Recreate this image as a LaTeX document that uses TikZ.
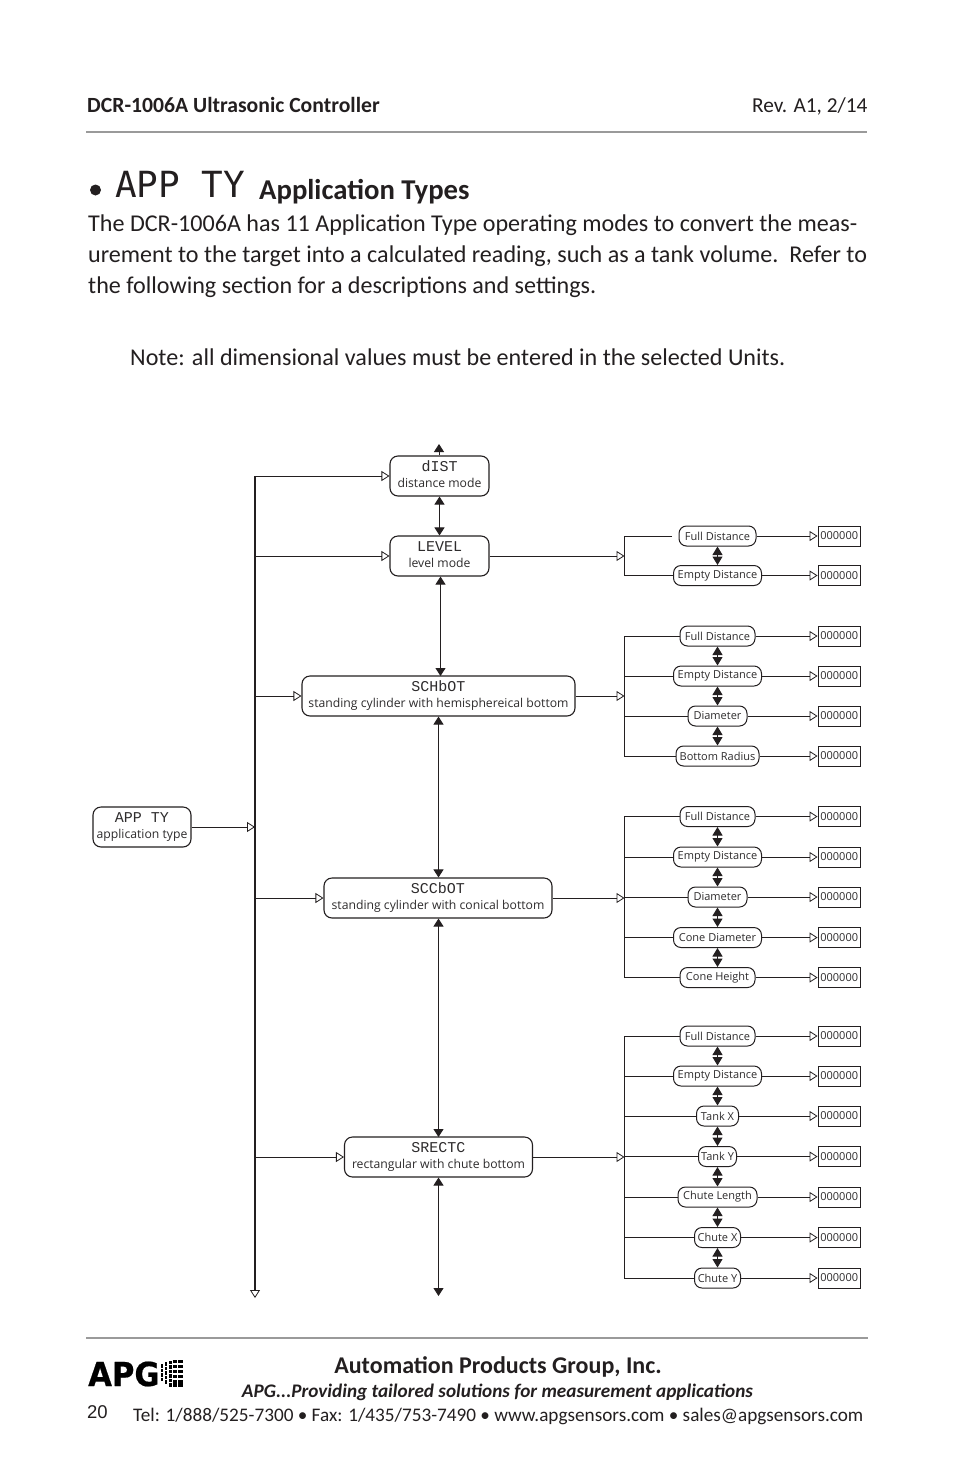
\documentclass[tikz,border=0pt]{standalone}
\usepackage{fontspec}
\usetikzlibrary{arrows.meta}
\setmainfont{Carlito}
\newfontfamily\lcd{Liberation Mono}
\newfontfamily\lcdbig{DejaVu Sans Mono}
\newfontfamily\diag{Open Sans}
\newfontfamily\logof[FakeStretch=0.93,FakeBold=0.6]{DejaVu Sans Bold}
\newfontfamily\arialf{Liberation Sans}
\definecolor{ink}{HTML}{231F20}
\definecolor{rulegrey}{HTML}{9A9A9A}
\definecolor{tx}{HTML}{2E2C2D}
\tikzset{
 x=1pt,y=-1pt,
 txt/.style={inner sep=0pt,anchor=base west,text=ink},
 modebox/.style={draw=ink,line width=1.1pt,rounded corners=8pt,fill=white,inner sep=0pt,minimum height=40pt,align=center,text=tx,font=\diag\fontsize{12.2}{16}\selectfont},
 rowbox/.style={draw=ink,line width=1pt,rounded corners=7.5pt,fill=white,inner sep=0pt,minimum height=20pt,text=tx,font=\diag\fontsize{11}{12}\selectfont},
 valbox/.style={draw=ink,line width=.8pt,fill=white,inner sep=0pt,minimum width=42.5pt,minimum height=20pt,text=tx,font=\diag\fontsize{11}{12}\selectfont},
 conn/.style={draw=ink,line width=.9pt},
 opentip/.style={conn,-{Triangle[open,length=8pt,width=10pt,line width=.8pt]}},
 bidir/.style={conn,{Triangle[length=8pt,width=10pt]}-{Triangle[length=8pt,width=10pt]}},
 shortbi/.style={conn,line width=1pt,{Triangle[length=8.5pt,width=10pt]}-{Triangle[length=8.5pt,width=10pt]}},
 solidtip/.style={conn,-{Triangle[length=8pt,width=10pt]}},
}
\newcommand{\lcdtxt}[1]{{\lcd\fontsize{15}{16}\selectfont #1}}
\newcommand{\modetxt}[2]{\rule{0pt}{11pt}\lcdtxt{#1}\\#2\rule[-4pt]{0pt}{4pt}}
\begin{document}
\begin{tikzpicture}
\useasboundingbox (0,0) rectangle (954,1475);
\fill[white] (0,0) rectangle (954,1475);
% header
\node[txt,font=\fontsize{21.67}{24}\selectfont\bfseries] (hl) at (87,112) {DCR-1006A Ultrasonic Controller};
\node[txt,font=\fontsize{21.3}{24}\selectfont] (hr) at (752,112) {Rev. A1, 2/14};
\coordinate (r1a) at (86,132); \coordinate (r1b) at (867,132);
\draw[rulegrey,line width=1.6pt] (r1a) -- (r1b);
\fill[ink] (95.5,190) circle (5.5pt);
\node[txt,font=\lcdbig\fontsize{36}{36}\selectfont] (tlcd) at (115,197) {APP TY};
\node[txt,font=\fontsize{28.7}{30}\selectfont\bfseries] (tt) at (259,199) {Application Types};
\node[txt,font=\fontsize{24.1}{30}\selectfont] (p1) at (88,231) {The DCR-1006A has 11 Application Type operating modes to convert the meas-};
\node[txt,font=\fontsize{24.1}{30}\selectfont] (p2) at (88,262) {urement to the target into a calculated reading, such as a tank volume.\ \ Refer to};
\node[txt,font=\fontsize{24.1}{30}\selectfont] (p3) at (88,293) {the following section for a descriptions and settings.};
\node[txt,font=\fontsize{24.1}{30}\selectfont] (p4) at (130,365) {Note: all dimensional values must be entered in the selected Units.};
% modes
\node[modebox,minimum width=99pt] (dist) at (439.5,476) {\modetxt{dIST}{distance mode}};
\node[modebox,minimum width=99pt] (level) at (439.5,556) {\modetxt{LEVEL}{level mode}};
\node[modebox,minimum width=273pt] (schbot) at (438.5,696) {\modetxt{SCHbOT}{standing cylinder with hemisphereical bottom}};
\node[modebox,minimum width=228pt] (sccbot) at (438,898) {\modetxt{SCCbOT}{standing cylinder with conical bottom}};
\node[modebox,minimum width=188pt] (srectc) at (438.5,1157) {\modetxt{SRECTC}{rectangular with chute bottom}};
\node[modebox,minimum width=98pt] (appty) at (142,827) {\modetxt{APP TY}{application type}};
% left bus
\coordinate (bustop) at (255,476);
\coordinate (busbot) at (255,1298);
\coordinate (busapp) at (255,827);
\coordinate (topend) at (439,444);
\coordinate (botend) at (438.5,1296);
\draw[draw=ink,line width=2.1pt] (bustop) -- (255,1290);
\draw[opentip] (255,1289) -- (busbot);
\foreach \m in {dist,level,schbot,sccbot,srectc}{
  \draw[opentip] (bustop |- \m.west) -- (\m.west);
}
\draw[opentip] (appty.east) -- (busapp);
% verticals
\draw[solidtip] (dist.north -| topend) -- (topend);
\draw[bidir] (dist.south) -- (level.north);
\draw[bidir] (level.south) ++(1,0) -- (440.5,676);
\draw[bidir] (schbot.south) -- (schbot.south |- sccbot.north);
\draw[bidir] (sccbot.south) ++(.5,0) -- (438.5,1137);
\draw[bidir] (srectc.south) -- (botend);
% group helper
\newcommand{\rowv}[5]{%
  \node[rowbox,minimum width=#3pt] (#1) at (717.5,#2) {#4};
  \node[valbox] (#1v) at (839.2,#2) {000000};
  \draw[opentip] (#1.east) -- (#1v.west);
}
% group 1
\rowv{a}{536}{77}{Full Distance}{}
\rowv{b}{575.5}{88}{Empty Distance}{}
\coordinate (g1) at (624.5,556);
\draw[opentip] (level.east) -- (g1);
\draw[conn] (672,536) -- (624.5,536) -- (624.5,575.5) -- (b.west);
\draw[shortbi] (a.south) -- (b.north);
% group 2
\rowv{c}{636}{75}{Full Distance}{}
\rowv{d}{676}{88}{Empty Distance}{}
\rowv{e}{716}{59}{Diameter}{}
\rowv{f}{756}{83}{Bottom Radius}{}
\coordinate (g2) at (624.5,696);
\draw[opentip] (schbot.east) -- (g2);
\draw[conn] (c.west) -- (g2 |- c.west) -- (g2 |- f.west) -- (f.west);
\foreach \m in {d,e}{\draw[conn] (g2 |- \m.west) -- (\m.west);}
\draw[shortbi] (c.south) -- (d.north);
\draw[shortbi] (d.south) -- (e.north);
\draw[shortbi] (e.south) -- (f.north);
% group 3
\rowv{g}{816.5}{75}{Full Distance}{}
\rowv{h}{857}{88}{Empty Distance}{}
\rowv{i}{897}{59}{Diameter}{}
\rowv{j}{937.5}{88}{Cone Diameter}{}
\rowv{k}{977.5}{75}{Cone Height}{}
\coordinate (g3) at (624.5,898);
\draw[opentip] (sccbot.east) -- (g3);
\draw[conn] (g.west) -- (g3 |- g.west) -- (g3 |- k.west) -- (k.west);
\foreach \m in {h,i,j}{\draw[conn] (g3 |- \m.west) -- (\m.west);}
\draw[shortbi] (g.south) -- (h.north);
\draw[shortbi] (h.south) -- (i.north);
\draw[shortbi] (i.south) -- (j.north);
\draw[shortbi] (j.south) -- (k.north);
% group 4
\rowv{l}{1036}{75}{Full Distance}{}
\rowv{m}{1076}{88}{Empty Distance}{}
\rowv{n}{1116}{42}{Tank X}{}
\rowv{o}{1156.5}{38}{Tank Y}{}
\rowv{q}{1197}{79}{Chute Length}{}
\rowv{r}{1237.5}{46}{Chute X}{}
\rowv{s}{1278}{46}{Chute Y}{}
\coordinate (g4) at (624.5,1157);
\draw[opentip] (srectc.east) -- (g4);
\draw[conn] (l.west) -- (g4 |- l.west) -- (g4 |- s.west) -- (s.west);
\foreach \m in {m,n,o,q,r}{\draw[conn] (g4 |- \m.west) -- (\m.west);}
\draw[shortbi] (l.south) -- (m.north);
\draw[shortbi] (m.south) -- (n.north);
\draw[shortbi] (n.south) -- (o.north);
\draw[shortbi] (o.south) -- (q.north);
\draw[shortbi] (q.south) -- (r.north);
\draw[shortbi] (r.south) -- (s.north);
% footer
\coordinate (r2a) at (86,1338); \coordinate (r2b) at (868,1338);
\draw[rulegrey,line width=1.6pt] (r2a) -- (r2b);
\node[txt,font=\logof\fontsize{33}{33}\selectfont,text=black] (logo) at (88,1386) {APG};
\foreach \cx/\w/\ys in {162/1.4/{1366,1370.5,1375,1379.5},166/2.2/{1364,1368.5,1373,1377.5,1382},170.5/3/{1362.5,1367,1371.5,1376,1380.5,1385},175/3.6/{1361.5,1366.5,1371.5,1376.5,1381.5,1385},180.5/4.2/{1361.5,1366.5,1371.5,1376.5,1381.5,1385}}{
  \foreach \cy in \ys{
    \fill[black] (\cx-\w/2,\cy-1.7) rectangle (\cx+\w/2,\cy+1.7);
  }
}
\node[txt,font=\fontsize{24}{26}\selectfont\bfseries,anchor=base] (f1) at (498,1373) {Automation Products Group, Inc.};
\node[txt,font=\fontsize{19.2}{24}\selectfont\bfseries\itshape,anchor=base] (f2) at (497.5,1397) {APG...Providing tailored solutions for measurement applications};
\node[txt,font=\arialf\fontsize{18.5}{24}\selectfont] (f3) at (87,1418.5) {20};
\node[txt,font=\fontsize{19.2}{24}\selectfont] (f4) at (133,1421) {Tel: 1/888/525-7300 • Fax: 1/435/753-7490 • www.apgsensors.com • sales@apgsensors.com};
\end{tikzpicture}
\end{document}
